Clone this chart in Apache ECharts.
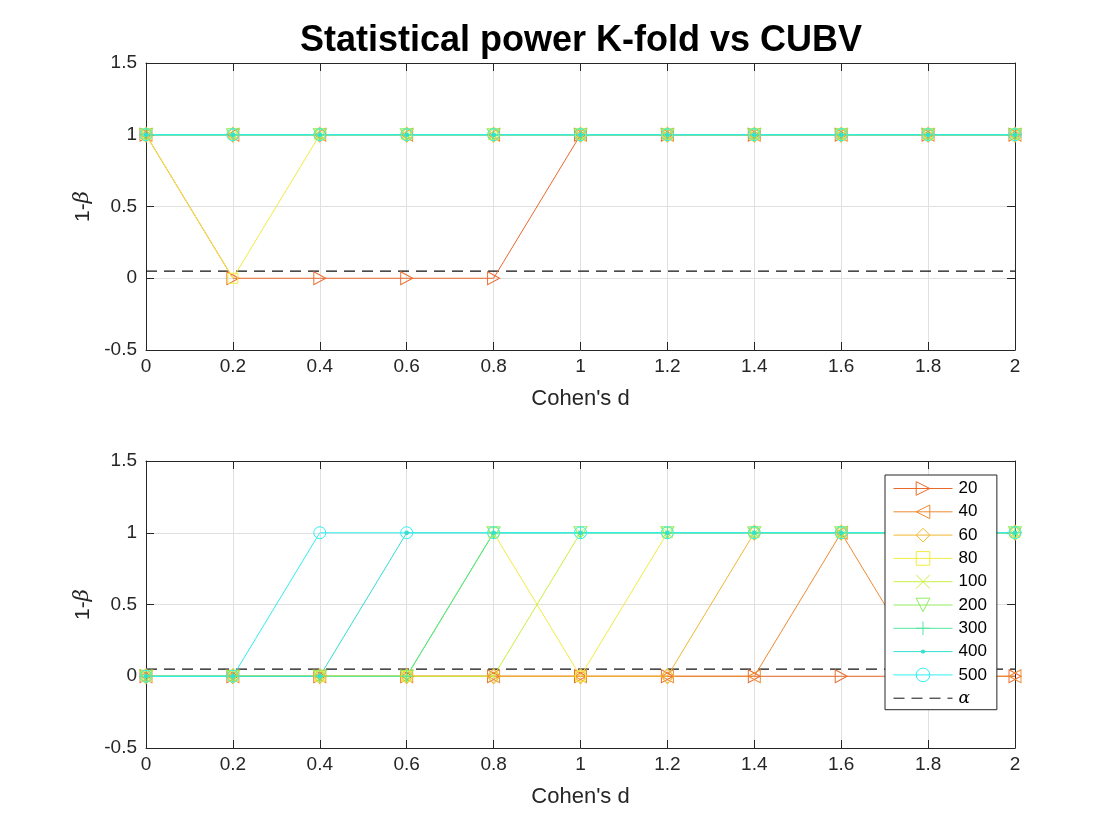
<!DOCTYPE html>
<html>
<head>
<meta charset="utf-8">
<title>Statistical power K-fold vs CUBV</title>
<script src="https://cdn.jsdelivr.net/npm/echarts@6/dist/echarts.min.js"></script>
<style>
  html, body { margin: 0; padding: 0; background: #fff; }
  #chart { width: 1120px; height: 840px; }
</style>
</head>
<body>
<div id="chart"></div>
<script>
// Cohen's d values (x axis)
var cohensD = [0, 0.2, 0.4, 0.6, 0.8, 1.0, 1.2, 1.4, 1.6, 1.8, 2.0];
var sampleSizes = ['20', '40', '60', '80', '100', '200', '300', '400', '500'];
var alphaLevel = 0.05;

// top panel: K-fold power, one array per sample size
var kfold20  = [1, 0, 0, 0, 0, 1, 1, 1, 1, 1, 1];
var kfold40  = [1, 1, 1, 1, 1, 1, 1, 1, 1, 1, 1];
var kfold60  = [1, 1, 1, 1, 1, 1, 1, 1, 1, 1, 1];
var kfold80  = [1, 0, 1, 1, 1, 1, 1, 1, 1, 1, 1];
var kfold100 = [1, 1, 1, 1, 1, 1, 1, 1, 1, 1, 1];
var kfold200 = [1, 1, 1, 1, 1, 1, 1, 1, 1, 1, 1];
var kfold300 = [1, 1, 1, 1, 1, 1, 1, 1, 1, 1, 1];
var kfold400 = [1, 1, 1, 1, 1, 1, 1, 1, 1, 1, 1];
var kfold500 = [1, 1, 1, 1, 1, 1, 1, 1, 1, 1, 1];

// bottom panel: CUBV power
var cubv20  = [0, 0, 0, 0, 0, 0, 0, 0, 0, 0, 0];
var cubv40  = [0, 0, 0, 0, 0, 0, 0, 0, 1, 0, 0];
var cubv60  = [0, 0, 0, 0, 0, 0, 0, 1, 1, 1, 1];
var cubv80  = [0, 0, 0, 0, 1, 0, 1, 1, 1, 1, 1];
var cubv100 = [0, 0, 0, 0, 0, 1, 1, 1, 1, 1, 1];
var cubv200 = [0, 0, 0, 0, 1, 1, 1, 1, 1, 1, 1];
var cubv300 = [0, 0, 0, 0, 1, 1, 1, 1, 1, 1, 1];
var cubv400 = [0, 0, 0, 1, 1, 1, 1, 1, 1, 1, 1];
var cubv500 = [0, 0, 1, 1, 1, 1, 1, 1, 1, 1, 1];

var kfoldAll = [kfold20, kfold40, kfold60, kfold80, kfold100, kfold200, kfold300, kfold400, kfold500];
var cubvAll = [cubv20, cubv40, cubv60, cubv80, cubv100, cubv200, cubv300, cubv400, cubv500];

// 颜色与标记
var colors = ['#EA6A2C', '#EE8A30', '#F0B830', '#F2EC40', '#C8F040', '#90EC60', '#50E8A0', '#30E0D0', '#30F0F0'];
var markers = [
  { symbol: 'path://M0 0 L10 5 L0 10 Z', size: [12, 13] },
  { symbol: 'path://M10 0 L0 5 L10 10 Z', size: [12, 13] },
  { symbol: 'diamond', size: [13, 15] },
  { symbol: 'rect', size: 10 },
  { symbol: 'path://M0 0 L10 10 M10 0 L0 10', size: 9 },
  { symbol: 'path://M0 0 L10 0 L5 10 Z', size: [13, 12] },
  { symbol: 'path://M5 0 L5 10 M0 5 L10 5', size: 12 },
  // tiny dot inside an empty 12x12 box so the legend draws it small too
  { symbol: 'path://M0 0 M12 12 M5 4.8 L7 4.8 L7.2 5 L7.2 7 L7 7.2 L5 7.2 L4.8 7 L4.8 5 Z', size: 16, filled: true },
  { symbol: 'circle', size: 12 }
];

var ink = '#262626';
var FONT = '"Liberation Sans", Arial, Helvetica, sans-serif';

function pairs(ys) {
  return cohensD.map(function (x, i) { return [x, ys[i]]; });
}

function makeSeries(values, axisIndex) {
  var list = [{
    name: 'α',
    type: 'line',
    xAxisIndex: axisIndex,
    yAxisIndex: axisIndex,
    data: [[cohensD[0], alphaLevel], [cohensD[cohensD.length - 1], alphaLevel]],
    symbol: 'path://M0 0 M10 10',
    showSymbol: false,
    lineStyle: { color: '#111', width: 1.1, type: [11, 7] },
    itemStyle: { color: 'rgba(0,0,0,0)', borderWidth: 0 },
    emphasis: { disabled: true }
  }];
  for (var i = 0; i < sampleSizes.length; i++) {
    var m = markers[i];
    list.push({
      name: sampleSizes[i],
      type: 'line',
      xAxisIndex: axisIndex,
      yAxisIndex: axisIndex,
      data: pairs(values[i]),
      symbol: m.symbol,
      symbolSize: m.size,
      showAllSymbol: true,
      lineStyle: { color: colors[i], width: 1 },
      itemStyle: {
        color: m.filled ? colors[i] : 'rgba(0,0,0,0)',
        borderColor: colors[i],
        borderWidth: 1
      },
      emphasis: { disabled: true }
    });
  }
  return list;
}

function xAxisFor(gridIndex, mirror) {
  return {
    type: 'value',
    gridIndex: gridIndex,
    position: mirror ? 'top' : 'bottom',
    min: 0, max: 2, interval: 0.2,
    name: mirror ? '' : "Cohen's d",
    nameLocation: 'middle',
    nameGap: 38,
    nameTextStyle: { color: ink, fontSize: 22, fontFamily: FONT },
    axisLine: { show: true, onZero: false, lineStyle: { color: ink, width: 1 } },
    axisTick: { show: true, inside: true, length: 8, lineStyle: { color: ink } },
    axisLabel: {
      show: !mirror, color: ink, fontSize: 19, fontFamily: FONT, margin: 7,
      formatter: function (v) { return String(Math.round(v * 10) / 10); }
    },
    splitLine: { show: !mirror, lineStyle: { color: '#e0e0e0', width: 1 } }
  };
}

function yAxisFor(gridIndex, mirror) {
  return {
    type: 'value',
    gridIndex: gridIndex,
    position: mirror ? 'right' : 'left',
    min: -0.5, max: 1.5, interval: 0.5,
    name: mirror ? '' : '1-{b|β}',
    nameLocation: 'middle',
    nameGap: 47,
    nameRotate: 90,
    nameTextStyle: {
      color: ink, fontSize: 21, fontFamily: FONT,
      rich: { b: { fontStyle: 'italic', fontSize: 21, fontFamily: '"DejaVu Serif", serif', color: ink } }
    },
    axisLine: { show: true, onZero: false, lineStyle: { color: ink, width: 1 } },
    axisTick: { show: true, inside: true, length: 8, lineStyle: { color: ink } },
    axisLabel: { show: !mirror, color: ink, fontSize: 19, fontFamily: FONT, margin: 9 },
    splitLine: { show: !mirror, lineStyle: { color: '#e0e0e0', width: 1 } }
  };
}

var chart = echarts.init(document.getElementById('chart'), null, { renderer: 'canvas' });

chart.setOption({
  animation: false,
  backgroundColor: '#fff',
  title: {
    text: 'Statistical power K-fold vs CUBV',
    left: 576, top: 18, textAlign: 'center',
    textStyle: { color: '#000', fontSize: 36, fontWeight: 'bold', fontFamily: FONT }
  },
  grid: [
    { left: 146, top: 63, width: 869, height: 287 },
    { left: 146, top: 461, width: 869, height: 287 }
  ],
  xAxis: [xAxisFor(0, false), xAxisFor(1, false), xAxisFor(0, true), xAxisFor(1, true)],
  yAxis: [yAxisFor(0, false), yAxisFor(1, false), yAxisFor(0, true), yAxisFor(1, true)],
  legend: {
    orient: 'vertical',
    left: 885, top: 475,
    z: 50,
    data: sampleSizes.concat(['α']),
    itemWidth: 59,
    itemHeight: 17,
    itemGap: 6.3,
    padding: [5, 10, 3, 8],
    backgroundColor: '#fff',
    borderColor: ink,
    borderWidth: 1,
    borderRadius: 0,
    selectedMode: false,
    lineStyle: { width: 1 },
    itemStyle: { borderWidth: 1 },
    textStyle: {
      color: '#000', fontSize: 17, lineHeight: 16, fontFamily: FONT, padding: [0, 0, 0, 1],
      rich: { a: { fontStyle: 'italic', fontSize: 17, fontFamily: '"DejaVu Serif", serif', color: '#000' } }
    },
    formatter: function (name) { return name === 'α' ? '{a|α}' : name; }
  },
  series: makeSeries(kfoldAll, 0).concat(makeSeries(cubvAll, 1))
});
</script>
</body>
</html>
